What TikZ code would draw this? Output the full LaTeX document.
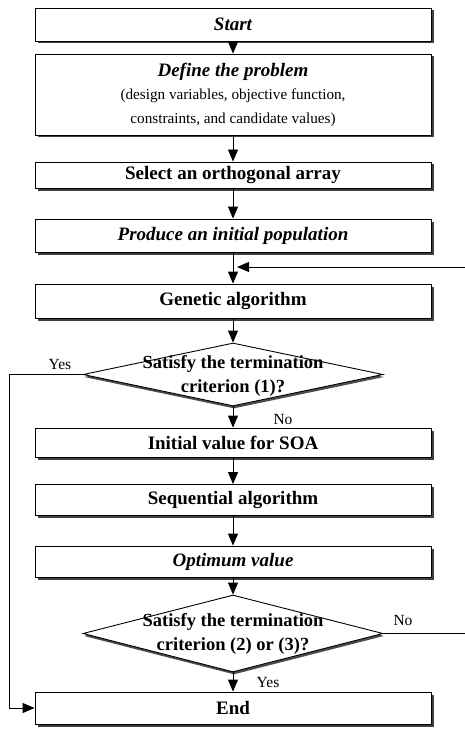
\documentclass[tikz,border=0pt]{standalone}
\usepackage{fontspec}
\setmainfont{Liberation Serif}
\usetikzlibrary{arrows.meta,shapes.geometric,shadows}
\begin{document}
\begin{tikzpicture}[x=1pt,y=-1pt,
 procbox/.style={draw, line width=0.9pt, fill=white, minimum width=396pt, inner sep=0pt, align=center,
   font=\fontsize{19}{23.5}\selectfont\bfseries,
   drop shadow={shadow xshift=2.5pt, shadow yshift=-2.5pt, fill=black!75, opacity=1}},
 decision/.style={diamond, draw, line width=0.9pt, fill=white, minimum width=300pt, inner sep=0pt,
   drop shadow={shadow xshift=1pt, shadow yshift=-2.5pt, fill=black!70, opacity=1}},
 dtext/.style={font=\fontsize{18.5}{23.5}\selectfont\bfseries, align=center, inner sep=0pt},
 lbl/.style={font=\fontsize{15.5}{18}\selectfont, inner sep=0pt},
 flow/.style={-{Triangle[width=10pt,length=12pt]}, line width=0.9pt},
 plain/.style={line width=0.9pt}]
\useasboundingbox (0,0) rectangle (465,730);
\node[procbox, minimum height=33pt] (start) at (233,24.5) {\itshape Start};
\node[procbox, minimum height=81pt, font=\fontsize{15.2}{23.5}\selectfont] (define) at (233,94.5)
  {{\fontsize{19}{23.5}\selectfont\bfseries\itshape Define the problem}\\
   (design variables, objective function,\\
   constraints, and candidate values)};
\node[procbox, minimum height=26pt] (select) at (233,175) {Select an orthogonal array};
\node[procbox, minimum height=33pt] (produce) at (233,235.5) {\itshape Produce an initial population};
\node[procbox, minimum height=34pt] (genetic) at (233,301) {Genetic algorithm};
\node[decision, minimum height=63pt] (d1) at (233,374.5) {};
\node[dtext] (d1t) at (233,376) {Satisfy the termination\\criterion (1)?};
\node[procbox, minimum height=29pt] (initial) at (233,442.5) {Initial value for SOA};
\node[procbox, minimum height=31pt] (seq) at (233,500) {Sequential algorithm};
\node[procbox, minimum height=31pt] (optimum) at (233,561.5) {\itshape Optimum value};
\node[decision, minimum height=77pt] (d2) at (233,633.5) {};
\node[dtext] (d2t) at (233,634) {Satisfy the termination\\criterion (2) or (3)?};
\node[procbox, minimum height=32pt] (end) at (233,708) {End};

\node[lbl] (yes1) at (60,364) {Yes};
\node[lbl] (no1) at (283,419) {No};
\node[lbl] (no2) at (403,620) {No};
\node[lbl] (yes2) at (268,682) {Yes};

\coordinate (fbin) at (465,267);
\coordinate (fbend) at (237,267);
\coordinate (ycorner) at (9,374.5);
\coordinate (nout) at (465,633.5);

\draw[flow] (start) -- (define);
\draw[flow] (define) -- (select);
\draw[flow] (select) -- (produce);
\draw[flow] (produce) -- (genetic);
\draw[flow] (fbin) -- (fbend);
\draw[flow] (genetic) -- (d1.north);
\draw[flow] (d1.south) -- (initial);
\draw[flow] (initial) -- (seq);
\draw[flow] (seq) -- (optimum);
\draw[flow] (optimum) -- (d2.north);
\draw[flow] (d2.south) -- (end);
\draw[flow] (d1.west) -- (ycorner) |- (end.west);
\draw[plain] (d2.east) -- (nout);
\end{tikzpicture}
\end{document}
